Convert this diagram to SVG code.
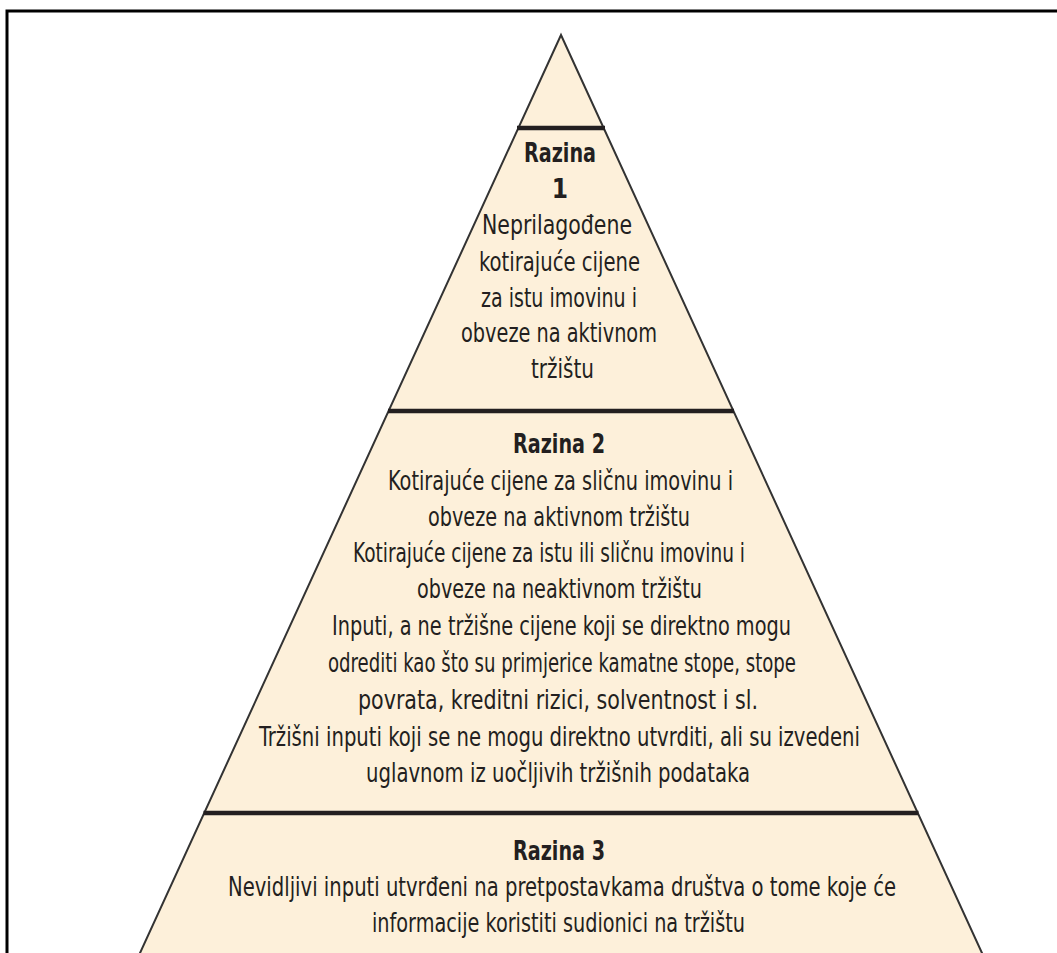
<svg xmlns="http://www.w3.org/2000/svg" width="1057" height="953" viewBox="0 0 1057 953">
<style>
.t{font-family:"Liberation Sans Narrow","DejaVu Sans Condensed","Noto Sans",sans-serif;font-size:26px;fill:#231f20;text-anchor:middle;}
.b{font-weight:bold;}
.div{stroke:#231f20;stroke-width:4.5;}
</style>
<rect width="1057" height="953" fill="#ffffff"/>
<path d="M7 953 V11 H1057" fill="none" stroke="#000" stroke-width="3"/>
<polygon points="561,35 985.2,960 136.8,960" fill="#fdf0da" stroke="#333" stroke-width="2" stroke-linejoin="miter"/>
<g id="dividers">
<line class="div" x1="517" y1="128" x2="605" y2="128"/>
<line class="div" x1="388" y1="411" x2="734" y2="411"/>
<line class="div" x1="203.5" y1="813" x2="918.5" y2="813"/>
</g>
<g id="level1">
<text class="t b" x="560" y="162" textLength="72" lengthAdjust="spacingAndGlyphs">Razina</text>
<text class="t b" x="560" y="198">1</text>
<text class="t" x="557" y="234" textLength="150" lengthAdjust="spacingAndGlyphs">Neprilagođene</text>
<text class="t" x="559.5" y="271" textLength="161" lengthAdjust="spacingAndGlyphs">kotirajuće cijene</text>
<text class="t" x="559" y="307" textLength="156" lengthAdjust="spacingAndGlyphs">za istu imovinu i</text>
<text class="t" x="559" y="342" textLength="196" lengthAdjust="spacingAndGlyphs">obveze na aktivnom</text>
<text class="t" x="562.5" y="378" textLength="63" lengthAdjust="spacingAndGlyphs">tržištu</text>
</g>
<g id="level2">
<text class="t b" x="559" y="453" textLength="92" lengthAdjust="spacingAndGlyphs">Razina 2</text>
<text class="t" x="560.5" y="490" textLength="345" lengthAdjust="spacingAndGlyphs">Kotirajuće cijene za sličnu imovinu i</text>
<text class="t" x="559" y="526" textLength="262" lengthAdjust="spacingAndGlyphs">obveze na aktivnom tržištu</text>
<text class="t" x="549" y="562" textLength="392" lengthAdjust="spacingAndGlyphs">Kotirajuće cijene za istu ili sličnu imovinu i</text>
<text class="t" x="559.5" y="598" textLength="285" lengthAdjust="spacingAndGlyphs">obveze na neaktivnom tržištu</text>
<text class="t" x="561.5" y="635" textLength="459" lengthAdjust="spacingAndGlyphs">Inputi, a ne tržišne cijene koji se direktno mogu</text>
<text class="t" x="562" y="672" textLength="468" lengthAdjust="spacingAndGlyphs">odrediti kao što su primjerice kamatne stope, stope</text>
<text class="t" x="558" y="709" textLength="400" lengthAdjust="spacingAndGlyphs">povrata, kreditni rizici, solventnost i sl.</text>
<text class="t" x="559.5" y="746" textLength="601" lengthAdjust="spacingAndGlyphs">Tržišni inputi koji se ne mogu direktno utvrditi, ali su izvedeni</text>
<text class="t" x="558" y="782" textLength="384" lengthAdjust="spacingAndGlyphs">uglavnom iz uočljivih tržišnih podataka</text>
</g>
<g id="level3">
<text class="t b" x="559" y="860" textLength="92" lengthAdjust="spacingAndGlyphs">Razina 3</text>
<text class="t" x="562" y="896" textLength="668" lengthAdjust="spacingAndGlyphs">Nevidljivi inputi utvrđeni na pretpostavkama društva o tome koje će</text>
<text class="t" x="558.5" y="932" textLength="373" lengthAdjust="spacingAndGlyphs">informacije koristiti sudionici na tržištu</text>
</g>
</svg>
